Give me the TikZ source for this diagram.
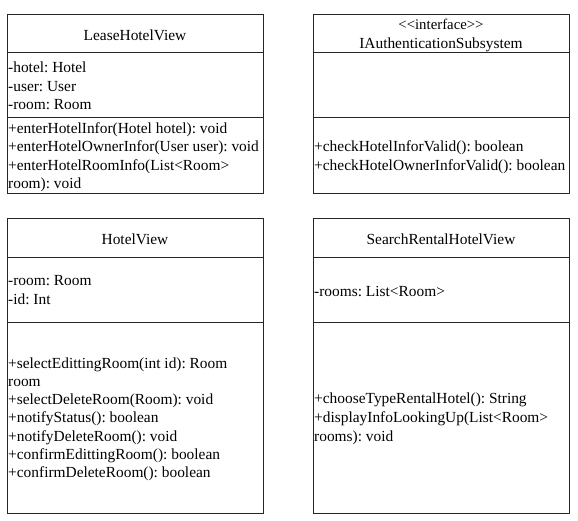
\documentclass[tikz,border=0pt]{standalone}
\usepackage{fontspec}
\setmainfont{Liberation Serif}
\begin{document}
\frenchspacing
\begin{tikzpicture}[x=1pt,y=-1pt,
  comp/.style={draw=black!85,line width=1pt,anchor=north west,inner sep=0pt,outer sep=0pt},
  txt/.style={anchor=base west,inner sep=0pt,font=\fontsize{15.4}{18}\selectfont},
  ttl/.style={anchor=base,inner sep=0pt,font=\fontsize{15.4}{18}\selectfont}]
\path[use as bounding box,fill=white] (0,0) rectangle (578,521);
% LeaseHotelView
\node[comp,minimum width=256pt,minimum height=38pt] (lT) at (7,15) {};
\node[comp,minimum width=256pt,minimum height=65pt] (lA) at (7,53) {};
\node[comp,minimum width=256pt,minimum height=76pt] (lM) at (7,118) {};
\node[ttl] (lt) at (135,40.5) {LeaseHotelView};
\node[txt] (la1) at (8,72.5) {-hotel: Hotel};
\node[txt] (la2) at (8,91.5) {-user: User};
\node[txt] (la3) at (8,109.5) {-room: Room};
\node[txt] (lm1) at (8,133.5) {+enterHotelInfor(Hotel hotel): void};
\node[txt] (lm2) at (8,152) {+enterHotelOwnerInfor(User user): void};
\node[txt] (lm3) at (8,170.5) {+enterHotelRoomInfo(List<Room>};
\node[txt] (lm4) at (8,188.5) {room): void};
% IAuthenticationSubsystem
\node[comp,minimum width=256pt,minimum height=38pt] (iT) at (313,15) {};
\node[comp,minimum width=256pt,minimum height=65pt] (iA) at (313,53) {};
\node[comp,minimum width=256pt,minimum height=76pt] (iM) at (313,118) {};
\node[ttl,font=\fontsize{14.8}{17}\selectfont] (is) at (441,29.5) {<{}<interface>{}>};
\node[ttl] (it) at (441,48.5) {IAuthenticationSubsystem};
\node[txt] (im1) at (314,152) {+checkHotelInforValid(): boolean};
\node[txt] (im2) at (314,170.5) {+checkHotelOwnerInforValid(): boolean};
% HotelView
\node[comp,minimum width=256pt,minimum height=39pt] (hT) at (7,219) {};
\node[comp,minimum width=256pt,minimum height=64pt] (hA) at (7,258) {};
\node[comp,minimum width=256pt,minimum height=191pt] (hM) at (7,322) {};
\node[ttl] (ht) at (135,244.5) {HotelView};
\node[txt] (ha1) at (8,286) {-room: Room};
\node[txt] (ha2) at (8,304.5) {-id: Int};
\node[txt] (hm1) at (8,368) {+selectEdittingRoom(int id): Room};
\node[txt] (hm2) at (8,386.5) {room};
\node[txt] (hm3) at (8,404) {+selectDeleteRoom(Room): void};
\node[txt] (hm4) at (8,422.5) {+notifyStatus(): boolean};
\node[txt] (hm5) at (8,441.5) {+notifyDeleteRoom(): void};
\node[txt] (hm6) at (8,459.5) {+confirmEdittingRoom(): boolean};
\node[txt] (hm7) at (8,477.5) {+confirmDeleteRoom(): boolean};
% SearchRentalHotelView
\node[comp,minimum width=256pt,minimum height=39pt] (sT) at (313,219) {};
\node[comp,minimum width=256pt,minimum height=64pt] (sA) at (313,258) {};
\node[comp,minimum width=256pt,minimum height=191pt] (sM) at (313,322) {};
\node[ttl] (st) at (441,244.5) {SearchRentalHotelView};
\node[txt] (sa1) at (314,296) {-rooms: List<Room>};
\node[txt] (sm1) at (314,403.5) {+chooseTypeRentalHotel(): String};
\node[txt] (sm2) at (314,422) {+displayInfoLookingUp(List<Room>};
\node[txt] (sm3) at (314,441.5) {rooms): void};
\end{tikzpicture}
\end{document}
